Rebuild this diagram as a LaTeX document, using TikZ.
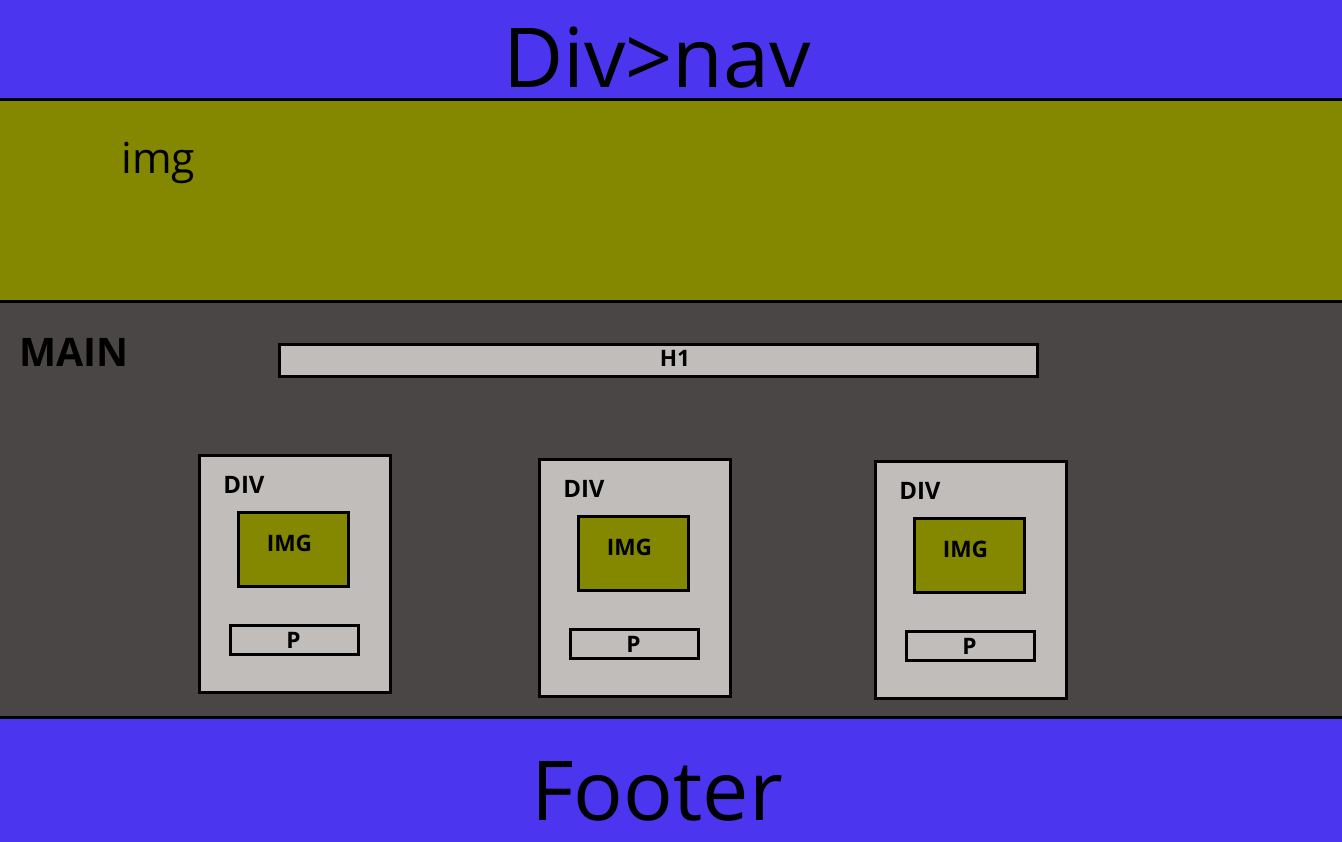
\documentclass[tikz,border=0pt]{standalone}
\usepackage{fontspec}
\setmainfont{Open Sans}
\usepackage{tikz}
\usetikzlibrary{positioning}

\definecolor{navblue}{HTML}{4B35EF}
\definecolor{olive}{HTML}{848700}
\definecolor{maingray}{HTML}{4A4645}
\definecolor{boxgray}{HTML}{C1BDBB}

\tikzset{
  band/.style={draw=none},
  frame/.style={draw=black, line width=2.25pt, fill=boxgray},
  imgframe/.style={draw=black, line width=2.25pt, fill=olive},
  biglabel/.style={inner sep=0pt, font=\fontsize{62}{70}\selectfont},
  boxlabel/.style={inner sep=0pt, font=\bfseries\fontsize{17}{20}\selectfont}
}

\begin{document}
\begin{tikzpicture}[x=0.75pt, y=-0.75pt]
		\useasboundingbox (0,0) rectangle (1342,842);
		% bands
		\fill[navblue] (0,0) rectangle (1342,100);
		\fill[olive] (0,100) rectangle (1342,301);
		\fill[maingray] (0,301) rectangle (1342,717);
		\fill[navblue] (0,717) rectangle (1342,842);
		\draw[line width=2.25pt] (0,100) -- (1342,100);
		\draw[line width=2.25pt] (0,301) -- (1342,301);
		\draw[line width=2.25pt] (0,717) -- (1342,717);
		% texts of the bands
		\node[biglabel, anchor=base] (nav) at (657,88) {Div>nav};
		\node[inner sep=0pt, anchor=base west, font=\fontsize{32}{36}\selectfont] (img) at (121,173) {img};
		\node[inner sep=0pt, anchor=base west, font=\bfseries\fontsize{29.5}{34}\selectfont] (main) at (19,366) {MAIN};
		\node[biglabel, anchor=base] (footer) at (657,820) {Footer};
		% H1
		\draw[frame] (279,344) rectangle (1037,376);
		\node[boxlabel, anchor=base] (h1) at (675,366) {H1};
		% the three DIV blocks
		\foreach \i/\dx/\dy in {1/199/455, 2/539/459, 3/875/461} {
			\draw[frame] (\dx,\dy) rectangle ++(191,237);
			\node[boxlabel, font=\bfseries\fontsize{18}{20}\selectfont, anchor=base west] (div\i) at (\dx+24,\dy+38) {DIV};
			\draw[imgframe] (\dx+39,\dy+57) rectangle ++(110,74);
			\node[boxlabel, anchor=base] (img\i) at (\dx+90.5,\dy+96) {IMG};
			\draw[frame] (\dx+31,\dy+170) rectangle ++(128,29);
			\node[boxlabel, anchor=base] (p\i) at (\dx+94.5,\dy+193) {P};
		}
		\end{tikzpicture}
\end{document}
